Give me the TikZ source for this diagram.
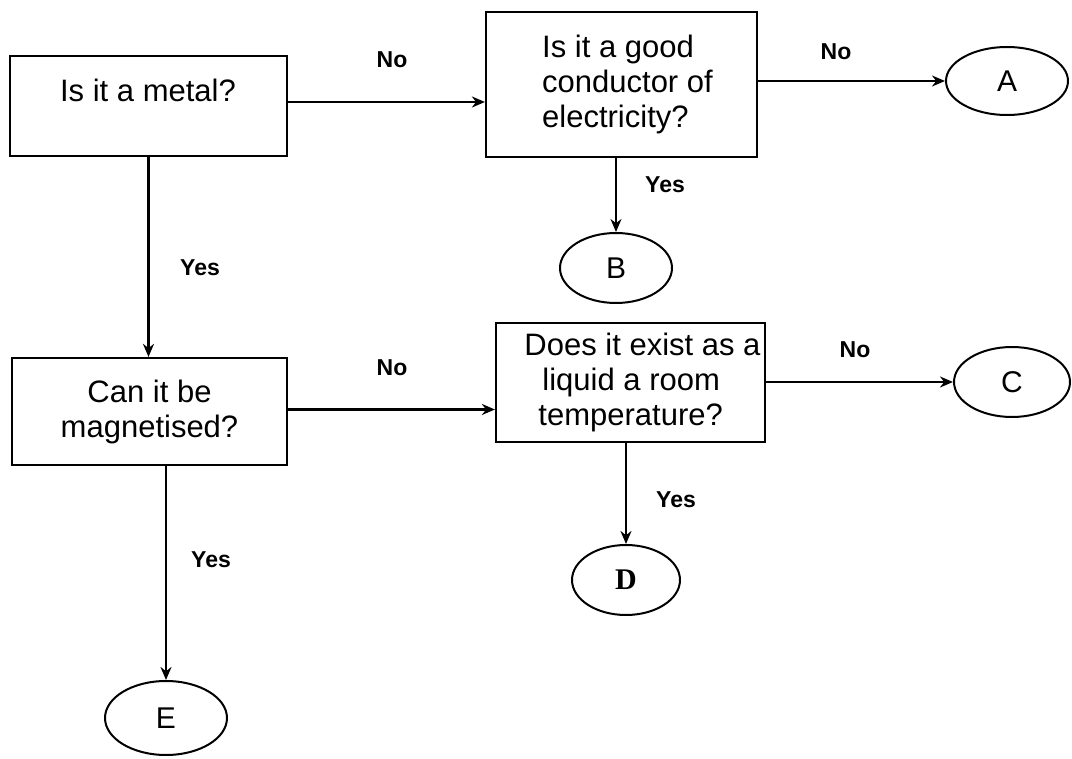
\documentclass[tikz,border=0pt]{standalone}
\usepackage{fontspec}
\setmainfont{Liberation Sans}
\newfontfamily\serifD{Liberation Serif}
\usetikzlibrary{arrows.meta,shapes.geometric}
\begin{document}
\begin{tikzpicture}[x=1pt,y=-1pt,
  qbox/.style={draw, line width=2.2pt, rectangle, inner sep=0pt, font=\fontsize{31}{35}\selectfont},
  qtext/.style={inner sep=0pt, font=\fontsize{31}{35}\selectfont},
  leaf/.style={draw, line width=2pt, ellipse, inner sep=0pt, font=\fontsize{30}{34}\selectfont},
  lbl/.style={inner sep=0pt, font=\bfseries\fontsize{23}{26}\selectfont},
  arr/.style={line width=2.2pt, -{Stealth[length=13pt,width=11pt]}}]
\useasboundingbox (0,0) rectangle (1072,759);
% question boxes
\node[qbox, minimum width=277pt, minimum height=100pt] (q1) at (148.5,106) {};
\node[qtext] (t1) at (148,90) {Is it a metal?};
\node[qbox, minimum width=271pt, minimum height=145pt, align=left] (q2) at (621.5,84.5)
  {\hspace*{12pt}Is it a good\\\hspace*{12pt}conductor of\\\hspace*{12pt}electricity?};
\node[qbox, minimum width=275pt, minimum height=107pt, align=center] (q3) at (149.5,411.5)
  {Can it be\\magnetised?};
\node[qbox, minimum width=269pt, minimum height=119pt, align=left] (q4) at (630.5,382.5)
  {\hspace*{24pt}Does it exist as a\\\hspace*{42pt}liquid a room\\\hspace*{38pt}temperature?};
% outcomes
\node[leaf, minimum width=122pt, minimum height=68pt] (A) at (1007,81) {A};
\node[leaf, minimum width=112pt, minimum height=70pt] (B) at (616,268) {B};
\node[leaf, minimum width=116pt, minimum height=70pt] (C) at (1012,382) {C};
\node[leaf, minimum width=108pt, minimum height=70pt] (D) at (626,580) {\serifD\bfseries D};
\node[leaf, minimum width=122pt, minimum height=74pt] (E) at (166,718) {E};
% connectors
\draw[arr] ([yshift=4pt]q1.east) -- ([yshift=4pt]q2.west |- q1.east);
\draw[arr] (q1.south) -- (q1.south |- q3.north);
\draw[arr] (q2.east |- A.west) -- (A.west);
\draw[arr] (B.north |- q2.south) -- (B.north);
\draw[arr] ([yshift=2pt]q3.east) -- ([yshift=2pt]q4.west |- q3.east);
\draw[arr] (q4.east |- C.west) -- (C.west);
\draw[arr] (D.north |- q4.south) -- (D.north);
\draw[arr] (E.north |- q3.south) -- (E.north);
% labels
\node[lbl] (l1) at (392,60) {No};
\node[lbl] (l2) at (200,268) {Yes};
\node[lbl] (l3) at (836,52) {No};
\node[lbl] (l4) at (665,185) {Yes};
\node[lbl] (l5) at (392,368) {No};
\node[lbl] (l6) at (855,350) {No};
\node[lbl] (l7) at (676,500) {Yes};
\node[lbl] (l8) at (211,560) {Yes};
\end{tikzpicture}
\end{document}
